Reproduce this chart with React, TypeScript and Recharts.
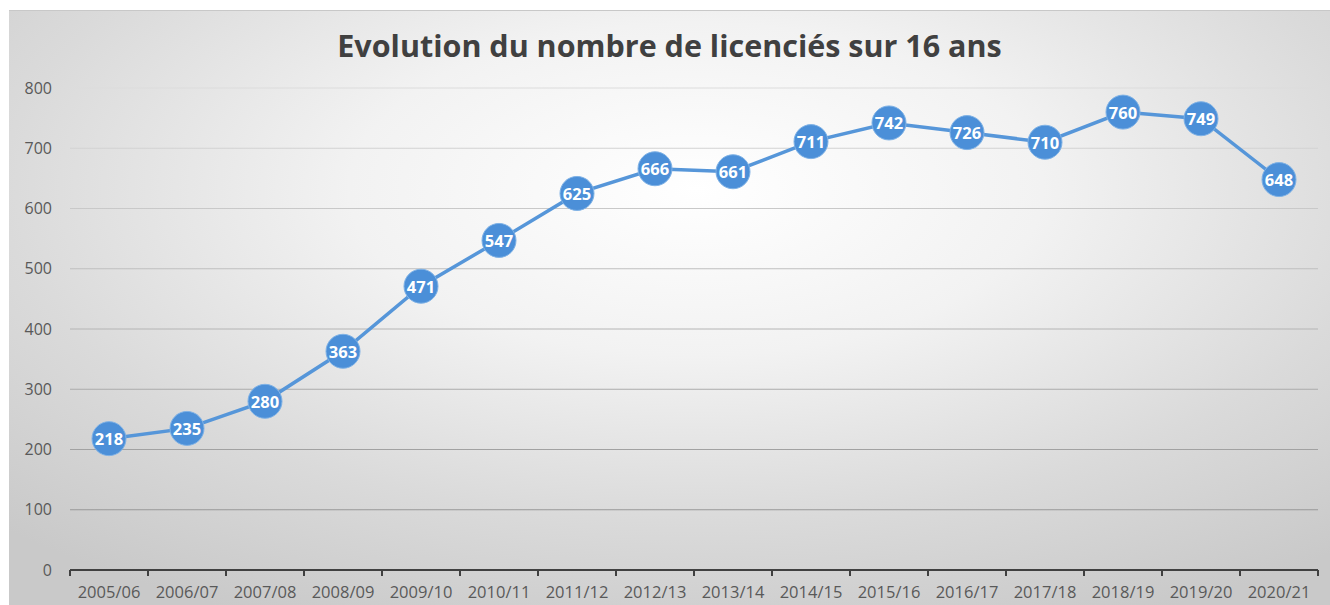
import React from "react";
import { LineChart, Line, XAxis, YAxis, CartesianGrid } from "recharts";

const seasons = [
  "2005/06", "2006/07", "2007/08", "2008/09", "2009/10", "2010/11", "2011/12", "2012/13",
  "2013/14", "2014/15", "2015/16", "2016/17", "2017/18", "2018/19", "2019/20", "2020/21",
];
const licencies = [218, 235, 280, 363, 471, 547, 625, 666, 661, 711, 742, 726, 710, 760, 749, 648];
const yTicks = [0, 100, 200, 300, 400, 500, 600, 700, 800];

const data = seasons.map((s, i) => ({ season: s, value: licencies[i] }));

const W = 1321;
const H = 595;
const MARGIN = { top: 77, right: 12, left: 0, bottom: 0 };
const Y_WIDTH = 61;
const PLOT_W = W - MARGIN.left - MARGIN.right - Y_WIDTH;
const BAND = PLOT_W / seasons.length;

const FONT = "'Open Sans', 'Noto Sans', sans-serif";
const BLUE = "#4b8fd8";

const XTick = (props: any) => {
  const { x, y, payload, index } = props;
  const last = index === seasons.length - 1;
  return (
    <g>
      <line x1={x - BAND / 2} x2={x - BAND / 2} y1={y} y2={y + 6} stroke="#404040" strokeWidth={2} />
      {last && <line x1={x + BAND / 2} x2={x + BAND / 2} y1={y} y2={y + 6} stroke="#404040" strokeWidth={2} />}
      <text x={x} y={y + 21} textAnchor="middle" dominantBaseline="central" fill="#595959" fontSize={16.5} fontFamily={FONT}>
        {payload.value}
      </text>
    </g>
  );
};

const PointLabel = (props: any) => {
  const { x, y, value } = props;
  return (
    <text x={x} y={y} textAnchor="middle" dominantBaseline="central" fill="#ffffff" fontSize={16.5} fontWeight={700} fontFamily={FONT}>
      {value}
    </text>
  );
};

export default function App() {
  return (
    <div style={{ position: "absolute", left: 0, top: 0, width: 1330, height: 605, background: "#fff" }}>
      <div
        style={{
          position: "absolute",
          left: 9,
          top: 10,
          width: W,
          height: H,
          borderTop: "1px solid #c8c8c8",
          boxSizing: "border-box",
          background: "radial-gradient(ellipse 75% 80% at 52% 30%, #ffffff 0%, #f2f2f2 35%, #dadada 70%, #c9c9c9 100%)",
        }}
      >
        <div
          style={{
            position: "absolute",
            top: 13,
            left: 0,
            width: "100%",
            textAlign: "center",
            fontFamily: FONT,
            fontWeight: 700,
            fontSize: 30.5,
            color: "#404040",
          }}
        >
          Evolution du nombre de licenciés sur 16 ans
        </div>
        <LineChart width={W} height={H} data={data} margin={MARGIN} style={{ position: "absolute", left: 0, top: 0 }}>
          <defs>
            <linearGradient id="gridGrad" gradientUnits="userSpaceOnUse" x1={0} y1={77} x2={0} y2={559}>
              <stop offset="0%" stopColor="#dcdcdc" />
              <stop offset="100%" stopColor="#8e8e8e" />
            </linearGradient>
          </defs>
          <CartesianGrid vertical={false} stroke="url(#gridGrad)" strokeWidth={1} />
          <XAxis
            dataKey="season"
            height={36}
            padding={{ left: BAND / 2, right: BAND / 2 }}
            axisLine={{ stroke: "#404040", strokeWidth: 2 }}
            tickLine={false}
            tickSize={0}
            tickMargin={0}
            tick={<XTick />}
            interval={0}
          />
          <YAxis
            width={Y_WIDTH}
            domain={[0, 800]}
            ticks={yTicks}
            axisLine={false}
            tickLine={false}
            tickSize={0}
            tickMargin={18}
            tick={{ fill: "#595959", fontSize: 16, fontFamily: FONT }}
          />
          <Line
            type="linear"
            dataKey="value"
            stroke="#5696d9"
            strokeWidth={3.5}
            dot={{ r: 17, fill: BLUE, stroke: "#7fb2e6", strokeWidth: 1 }}
            activeDot={false}
            label={<PointLabel />}
            isAnimationActive={false}
          />
        </LineChart>
      </div>
    </div>
  );
}
